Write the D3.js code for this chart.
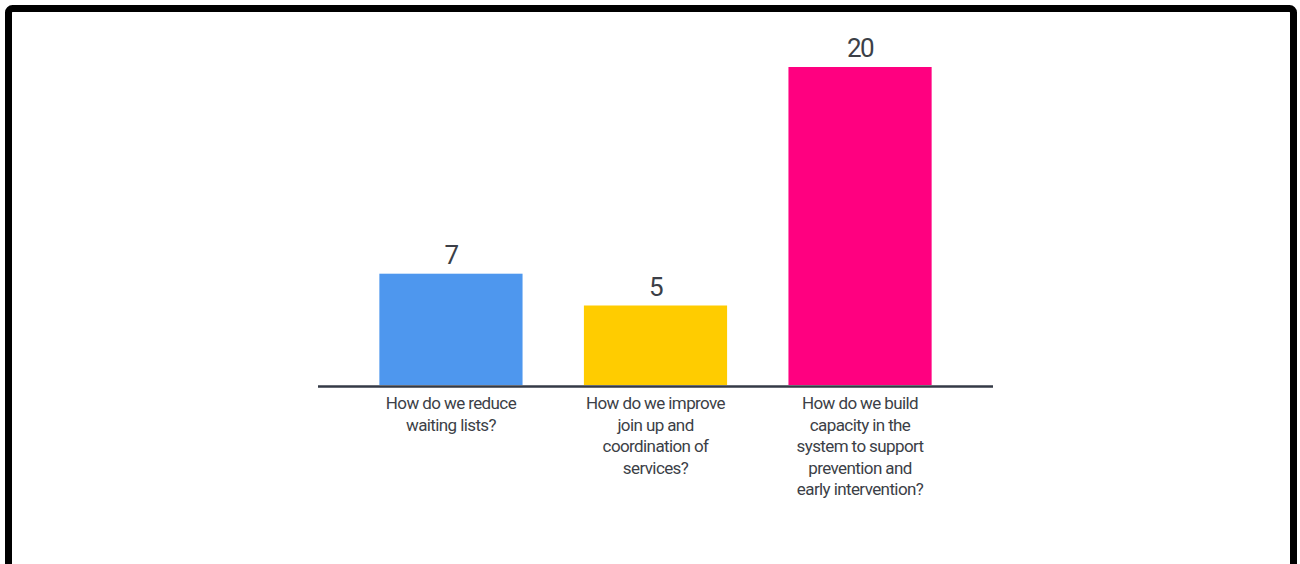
<!DOCTYPE html>
<html>
<head>
<meta charset="utf-8">
<script src="https://cdn.jsdelivr.net/npm/d3@7"></script>
<style>
  body { margin: 0; background: #fff; }
  svg text { font-family: Roboto, "Liberation Sans", sans-serif; fill: #3c3f47; }
</style>
</head>
<body>
<svg id="chart" width="1300" height="564"></svg>
<script>
var width = 1300,
	height = 564;

// data
var categories = ["reduce", "joinup", "capacity"];
var values = [7, 5, 20];
var colors = ["#4e97ee", "#ffcc00", "#ff0080"];
var tickLabels = [
	["How do we reduce", "waiting lists?"],
	["How do we improve", "join up and", "coordination of", "services?"],
	["How do we build", "capacity in the", "system to support", "prevention and", "early intervention?"]
];

var svg = d3.select("#chart");

// black frame round the picture
svg.append("rect")
	.attr("x", 8.5)
	.attr("y", 8.5)
	.attr("width", 1285)
	.attr("height", 620)
	.attr("rx", 4)
	.attr("fill", "none")
	.attr("stroke", "#000")
	.attr("stroke-width", 7);

var x = d3.scaleBand()
	.domain(categories)
	.range([318, 993])
	.paddingInner(0.3)
	.paddingOuter(0.3);

var y = d3.scaleLinear()
	.domain([0, 20])
	.range([385, 67]);

var g = svg.append("g");

g.selectAll(".bar")
	.data(values)
	.enter()
	.append("rect")
	.attr("class", "bar")
	.attr("x", function(d, i) { return x(categories[i]); })
	.attr("y", function(d) { return y(d); })
	.attr("width", x.bandwidth())
	.attr("height", function(d) { return y(0) - y(d); })
	.attr("fill", function(d, i) { return colors[i]; });

g.selectAll(".value")
	.data(values)
	.enter()
	.append("text")
	.attr("class", "value")
	.attr("x", function(d, i) { return x(categories[i]) + x.bandwidth() / 2; })
	.attr("y", function(d) { return y(d) - 10; })
	.attr("text-anchor", "middle")
	.style("font-size", "26px")
	.style("letter-spacing", "-1.5px")
	.text(function(d) { return d; });

// baseline
svg.append("line")
	.attr("x1", 318)
	.attr("x2", 993)
	.attr("y1", y(0) + 1.5)
	.attr("y2", y(0) + 1.5)
	.attr("stroke", "#343a46")
	.attr("stroke-width", 2.5);

var labels = g.selectAll(".label")
	.data(tickLabels)
	.enter()
	.append("text")
	.attr("class", "label")
	.attr("text-anchor", "middle")
	.style("font-size", "17px")
	.style("letter-spacing", "-0.6px")
	.attr("transform", function(d, i) {
		return "translate(" + (x(categories[i]) + x.bandwidth() / 2) + "," + (y(0) + 24) + ")";
	});

labels.selectAll("tspan")
	.data(function(d) { return d; })
	.enter()
	.append("tspan")
	.attr("x", 0)
	.attr("y", function(d, i) { return i * 21.5; })
	.text(function(d) { return d; });
</script>
</body>
</html>
